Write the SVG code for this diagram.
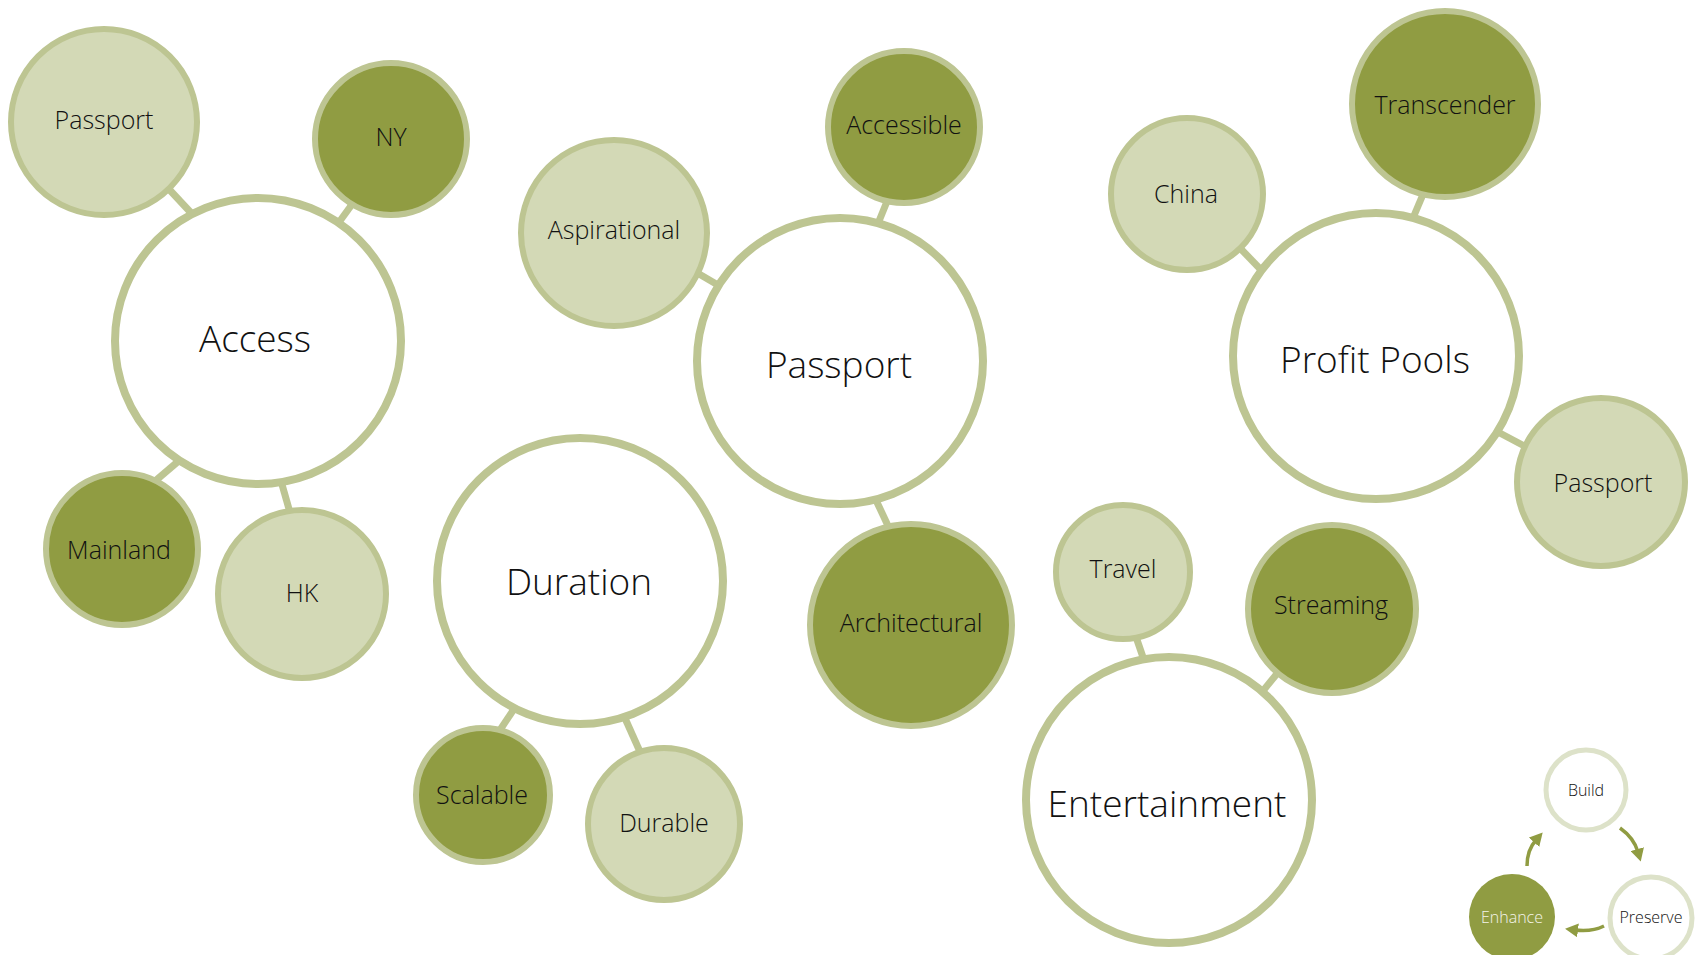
<svg xmlns="http://www.w3.org/2000/svg" width="1696" height="955" viewBox="0 0 1696 955">
<style>
.big{fill:#ffffff;stroke:#bdc592;stroke-width:8}
.light{fill:#d3d9b6;stroke:#bdc592;stroke-width:6}
.dark{fill:#909c42;stroke:#bdc592;stroke-width:6}
.cyc{fill:#ffffff;stroke:#dde2c9;stroke-width:5}
.cycd{fill:#909c42}
.conn line{stroke:#bdc592;stroke-width:7}
text{font-family:"Open Sans","Liberation Sans",sans-serif;font-weight:300;fill:#111111;text-anchor:middle}
.tb{font-size:37px}
.ts{font-size:25px}
.tc{font-size:16px}
.arr{fill:none;stroke:#909c42;stroke-width:3.5}
</style>
<defs>
<marker id="ah" markerUnits="userSpaceOnUse" markerWidth="14" markerHeight="14" refX="3" refY="7" orient="auto">
<path d="M0,0 L13,7 L0,14 z" fill="#909c42"/>
</marker>
</defs>
<rect width="1696" height="955" fill="#ffffff"/>
<g id="connectors" class="conn">
<line x1="166" y1="186" x2="194" y2="216"/>
<line x1="353" y1="203" x2="337" y2="225"/>
<line x1="181" y1="459" x2="154" y2="482"/>
<line x1="281" y1="481" x2="291" y2="516"/>
<line x1="694" y1="271" x2="723" y2="288"/>
<line x1="888" y1="199" x2="877" y2="226"/>
<line x1="875" y1="498" x2="890" y2="530"/>
<line x1="516" y1="706" x2="498" y2="733"/>
<line x1="624" y1="716" x2="641" y2="754"/>
<line x1="1238" y1="246" x2="1266" y2="275"/>
<line x1="1424" y1="192" x2="1413" y2="218"/>
<line x1="1496" y1="431" x2="1530" y2="449"/>
<line x1="1135" y1="634" x2="1146" y2="666"/>
<line x1="1280" y1="670" x2="1258" y2="697"/>
</g>
<g id="access"><circle class="big" cx="258" cy="341" r="143"/><text class="tb" x="255" y="352">Access</text></g>
<g id="passport-tl"><circle class="light" cx="104" cy="122" r="93"/><text class="ts" x="104" y="129">Passport</text></g>
<g id="ny"><circle class="dark" cx="391" cy="139" r="76"/><text class="ts" x="391" y="146">NY</text></g>
<g id="mainland"><circle class="dark" cx="122" cy="549" r="76"/><text class="ts" x="119" y="559">Mainland</text></g>
<g id="hk"><circle class="light" cx="302" cy="594" r="84"/><text class="ts" x="302" y="602">HK</text></g>
<g id="aspirational"><circle class="light" cx="614" cy="233" r="93"/><text class="ts" x="614" y="239">Aspirational</text></g>
<g id="accessible"><circle class="dark" cx="904" cy="127" r="76"/><text class="ts" x="904" y="134">Accessible</text></g>
<g id="passport"><circle class="big" cx="840" cy="361" r="143"/><text class="tb" x="839" y="378">Passport</text></g>
<g id="architectural"><circle class="dark" cx="911" cy="625" r="101"/><text class="ts" x="911" y="632">Architectural</text></g>
<g id="duration"><circle class="big" cx="580" cy="581" r="143"/><text class="tb" x="579" y="595">Duration</text></g>
<g id="scalable"><circle class="dark" cx="483" cy="795" r="67"/><text class="ts" x="482" y="804">Scalable</text></g>
<g id="durable"><circle class="light" cx="664" cy="824" r="76"/><text class="ts" x="664" y="832">Durable</text></g>
<g id="china"><circle class="light" cx="1187" cy="194" r="76"/><text class="ts" x="1186" y="203">China</text></g>
<g id="transcender"><circle class="dark" cx="1445" cy="104" r="93"/><text class="ts" x="1445" y="114">Transcender</text></g>
<g id="profit-pools"><circle class="big" cx="1376" cy="356" r="143"/><text class="tb" x="1375" y="373">Profit Pools</text></g>
<g id="passport-r"><circle class="light" cx="1601" cy="482" r="84"/><text class="ts" x="1603" y="492">Passport</text></g>
<g id="travel"><circle class="light" cx="1123" cy="572" r="67"/><text class="ts" x="1123" y="578">Travel</text></g>
<g id="streaming"><circle class="dark" cx="1332" cy="609" r="84"/><text class="ts" x="1331" y="614">Streaming</text></g>
<g id="entertainment"><circle class="big" cx="1169" cy="800" r="143"/><text class="tb" x="1167" y="817">Entertainment</text></g>
<g id="build"><circle class="cyc" cx="1586" cy="790" r="40"/><text class="tc" x="1586" y="796">Build</text></g>
<g id="preserve"><circle class="cyc" cx="1651" cy="918" r="41"/><text class="tc" x="1651" y="923">Preserve</text></g>
<g id="enhance"><circle class="cycd" cx="1512" cy="917" r="43"/><text class="tc" x="1512" y="923" style="fill:#f4f4ea">Enhance</text></g>
<g id="cycle-arrows">
<path class="arr" d="M1620,828 Q1634,838 1638,852" marker-end="url(#ah)"/>
<path class="arr" d="M1604,926 Q1592,932 1575,930" marker-end="url(#ah)"/>
<path class="arr" d="M1527,866 Q1527,850 1536,840" marker-end="url(#ah)"/>
</g>
</svg>
